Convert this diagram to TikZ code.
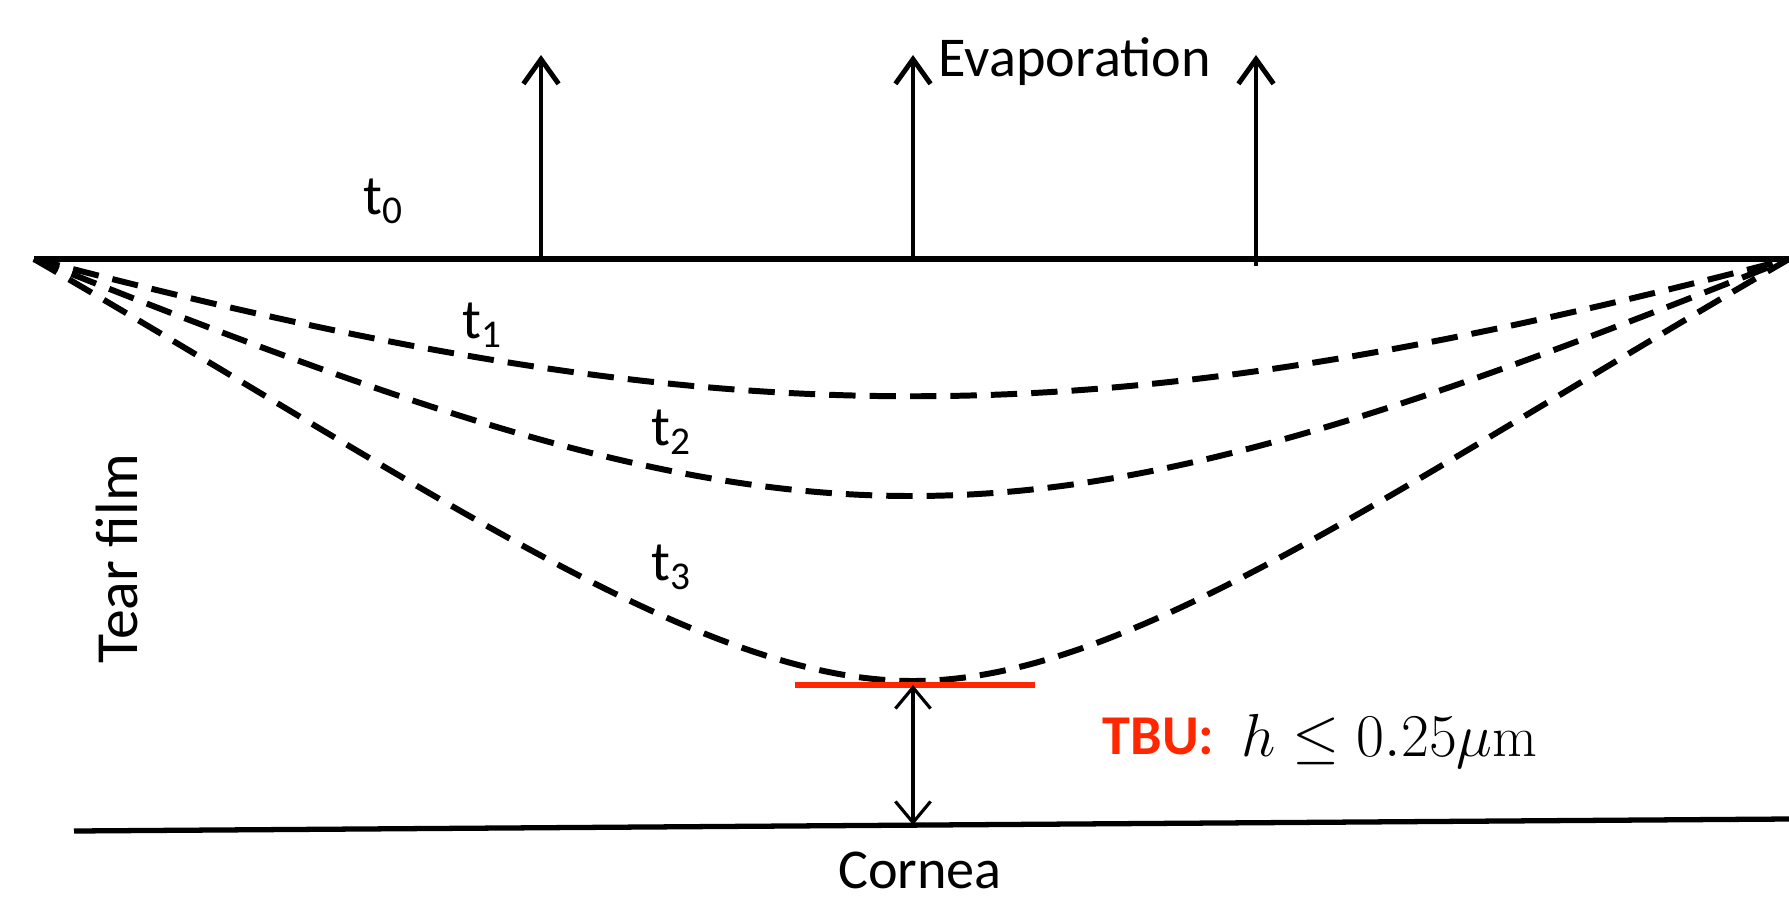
\documentclass[tikz,border=0pt]{standalone}
\usepackage{fontspec}
\usepackage{xcolor}
\usetikzlibrary{arrows.meta}
\newfontfamily\labelfont{Carlito}
\definecolor{tbured}{RGB}{255,38,0}

\begin{document}
\begin{tikzpicture}[x=1cm, y=1cm]
  \tikzset{
    film/.style={line width=1.9pt},
    evap/.style={line width=1.4pt, -{Straight Barb[length=7pt, width=10pt, line width=1.4pt]}},
    front/.style={line width=1.7pt, dash pattern=on 7.5pt off 4pt},
    lab/.style={font=\labelfont\fontsize{16}{19}\selectfont, inner sep=0pt},
  }
  \useasboundingbox (0, 0) rectangle (17.89, 9.02);

  % tear film surface and cornea
  \coordinate (surfL) at (0.34, 6.43);
  \coordinate (surfR) at (17.89, 6.43);
  \coordinate (corL) at (0.74, 0.71);
  \coordinate (corR) at (17.89, 0.83);
  \draw[film] (surfL) -- (surfR);
  \draw[line width=1.5pt] (corL) -- (corR);

  % evaporation arrows
  \coordinate (ev1) at (5.41, 6.43);
  \coordinate (ev1top) at (5.41, 8.47);
  \coordinate (ev2) at (9.13, 6.43);
  \coordinate (ev2top) at (9.13, 8.47);
  \coordinate (ev3) at (12.56, 6.36);
  \coordinate (ev3top) at (12.56, 8.47);
  \draw[evap] (ev1) -- (ev1top);
  \draw[evap] (ev2) -- (ev2top);
  \draw[evap] (ev3) -- (ev3top);
  \node[lab, anchor=base west] (evapLabel) at (9.38, 8.26) {Evaporation};

  % thinning profiles
  \draw[front] (surfL) .. controls (7.34, 4.60) and (10.89, 4.60) .. (surfR);
  \draw[front] (surfL) .. controls (8.24, 3.27) and (9.99, 3.27) .. (surfR);
  \coordinate (bottom) at (9.13, 2.21);
  \draw[front] (surfL) .. controls (4.34, 4.11) and (7.00, 2.21) .. (bottom)
               .. controls (11.26, 2.21) and (13.89, 4.11) .. (surfR);

  \node[lab, anchor=base west] (t0) at (3.63, 6.88) {t\textsubscript{0}};
  \node[lab, anchor=base west] (t1) at (4.62, 5.64) {t\textsubscript{1}};
  \node[lab, anchor=base west] (t2) at (6.51, 4.57) {t\textsubscript{2}};
  \node[lab, anchor=base west] (t3) at (6.51, 3.22) {t\textsubscript{3}};

  % breakup
  \coordinate (tbuL) at (7.95, 2.17);
  \coordinate (tbuR) at (10.35, 2.17);
  \coordinate (tbuMid) at (9.13, 2.17);
  \coordinate (corMid) at (9.13, 0.77);
  \draw[tbured, line width=1.9pt] (tbuL) -- (tbuR);
  \draw[line width=0.9pt, {Straight Barb[length=6pt, width=10pt]}-{Straight Barb[length=6pt, width=10pt]}] (tbuMid) -- (corMid);

  \node[lab, anchor=west, text=tbured, font=\labelfont\bfseries\fontsize{16}{19}\selectfont] (tbu) at (11.02, 1.66) {TBU:};
  \node[anchor=west, inner sep=0pt, font=\fontsize{16.5}{20}\selectfont] (height) at (12.41, 1.61) {$h \leq 0.25\mu\mathrm{m}$};

  \node[lab] (cornea) at (9.20, 0.32) {Cornea};
  \node[lab, rotate=90, font=\labelfont\fontsize{17}{20}\selectfont] (tearfilm) at (1.17, 3.43) {Tear film};
\end{tikzpicture}
\end{document}
